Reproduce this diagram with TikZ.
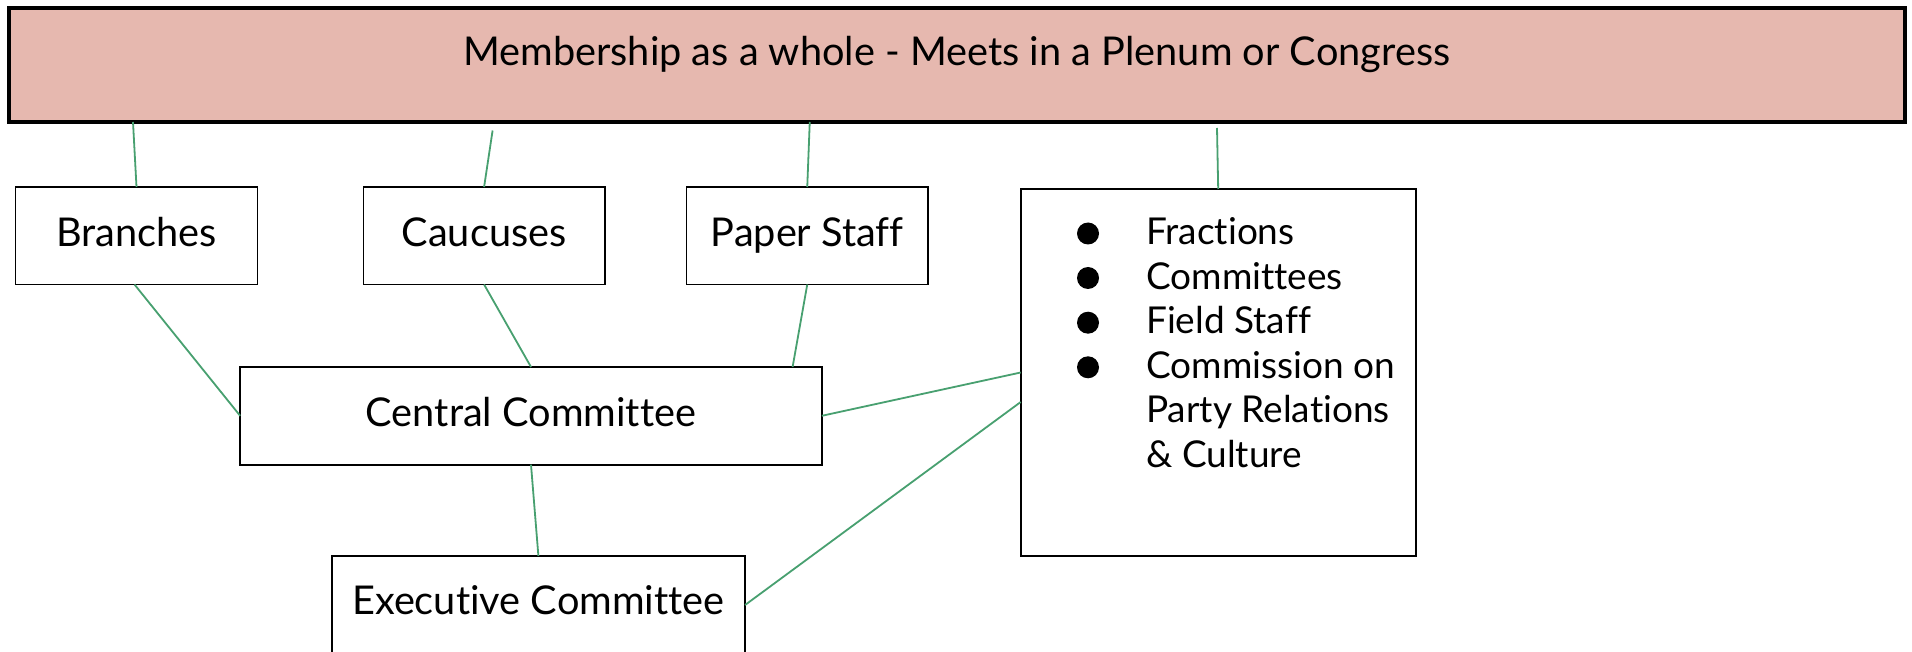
\documentclass[tikz,border=0pt]{standalone}
\usepackage{fontspec}
\setmainfont{Lato}[Ligatures=NoCommon]
\definecolor{linkgreen}{RGB}{72,160,112}
\definecolor{plenumfill}{HTML}{E6B8AF}
\begin{document}
\begin{tikzpicture}[x=1pt,y=-1pt,
  box/.style={draw=black, line width=1.8pt, fill=white, inner sep=0pt, outer sep=0pt,
    font=\fontsize{39.7}{46}\selectfont, text height=21pt, text depth=0pt},
  link/.style={draw=linkgreen, line width=1.8pt},
  listitem/.style={anchor=base west, inner sep=0pt, font=\fontsize{37}{44}\selectfont},
  bulletdot/.style={circle, fill=black, inner sep=0pt, minimum size=22pt}]
\clip (0,0) rectangle (1912,652);
\fill[white] (0,0) rectangle (1912,652);

% the plenum across the top
\node[box, fill=plenumfill, line width=4pt, minimum width=1896.5pt, minimum height=113.5pt,
  text height=20pt, text depth=20pt] (top) at (956.75,65.25)
  {Membership as a whole - Meets in a Plenum or Congress};

% second row
\node[box, minimum width=242pt, minimum height=97.5pt] (branches) at (136.5,235.75) {Branches};
\node[box, minimum width=241.4pt, minimum height=97.5pt] (caucuses) at (484.1,235.75) {Caucuses};
\node[box, minimum width=241.5pt, minimum height=97.5pt] (paper) at (807.25,235.75) {Paper Staff};

% committees
\node[box, minimum width=581.7pt, minimum height=97.6pt] (central) at (531,415.8) {Central Committee};
\node[box, anchor=north, minimum width=413.3pt, minimum height=110pt,
  text height=24pt, text depth=18pt] (exec) at (538.4,556) {Executive Committee};

% bodies listed in the right-hand box
\node[box, minimum width=395pt, minimum height=367pt] (groups) at (1218.2,372.5) {};
\node[bulletdot] (d1) at (1088,233.5) {};
\node[bulletdot] (d2) at (1088,278) {};
\node[bulletdot] (d3) at (1088,322.7) {};
\node[bulletdot] (d4) at (1088,367.3) {};
\node[listitem] (l1) at (1146,244.5) {Fractions};
\node[listitem] (l2) at (1146,289.1) {Committees};
\node[listitem] (l3) at (1146,333.7) {Field Staff};
\node[listitem] (l4) at (1146,378.3) {Commission on};
\node[listitem] (l5) at (1146,422.9) {Party Relations};
\node[listitem] (l6) at (1146,467.5) {\& Culture};

% connectors
\draw[link] ([xshift=-823.75pt]top.south) -- (branches.north);
\draw[link] ([xshift=-464.15pt,yshift=-8.5pt]top.south) -- (caucuses.north);
\draw[link] ([xshift=-147pt]top.south) -- (paper.north);
\draw[link] ([xshift=260.25pt,yshift=-6pt]top.south) -- (groups.north);
\draw[link] ([xshift=-2pt]branches.south) -- (central.west);
\draw[link] (caucuses.south) -- (central.north);
\draw[link] (paper.south) -- ([xshift=261.6pt]central.north);
\draw[link] (central.east) -- (groups.west);
\draw[link] ([yshift=-49pt]exec.north east) -- ([yshift=-29.5pt]groups.west);
\draw[link] (central.south) -- (exec.north);
\end{tikzpicture}
\end{document}
